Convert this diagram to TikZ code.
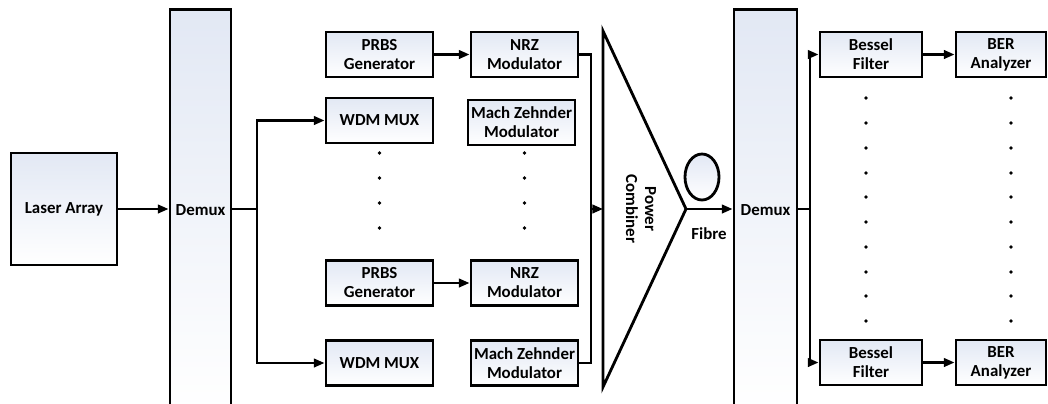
\documentclass[tikz,border=0pt]{standalone}
\usepackage{fontspec}
\setmainfont{Carlito}
\usetikzlibrary{arrows.meta}
\definecolor{boxtop}{HTML}{E2E8F4}
\begin{document}
\begin{tikzpicture}[x=0.025cm,y=-0.025cm,
  line width=1.7pt,
  >={Triangle[length=7.5pt,width=6pt]},
  shade box/.style={top color=boxtop,bottom color=white},
  block/.style={draw,shade box,line width=2.1pt,font=\fontsize{12}{13.5}\selectfont\bfseries,
    align=center,inner sep=0pt,minimum width=2.675cm,minimum height=1.125cm},
  bar/.style={block,minimum height=10cm},
  dot/.style={circle,fill,inner sep=0pt,minimum size=2.8pt}]

  \useasboundingbox (0,0) rectangle (1048,403);
  \begin{scope}
  \clip (0,0) rectangle (1048,403);

  % transmitter side
  \node[block,minimum width=2.65cm,minimum height=2.8cm] (laser) at (64,209) {Laser Array};
  \node[bar,minimum width=1.525cm] (dmx1) at (200.5,210) {Demux};

  \node[block] (prbs1) at (379.5,54.5) {PRBS\\Generator};
  \node[block] (nrz1) at (524.5,54.5) {NRZ\\Modulator};
  \node[block] (wdm1) at (379.5,120.5) {WDM MUX};
  \node[block] (mz1) at (521.5,122.5) {Mach Zehnder\\Modulator};
  \node[block] (prbs2) at (379.5,283) {PRBS\\Generator};
  \node[block] (nrz2) at (524.5,283) {NRZ\\Modulator};
  \node[block] (wdm2) at (379.5,363) {WDM MUX};
  \node[block] (mz2) at (524.5,363) {Mach Zehnder\\Modulator};

  \foreach \y in {153,178,203,228} {
    \node[dot] at (379.5,\y) {};
    \node[dot] at (524.5,\y) {};
  }

  % power combiner and fibre
  \coordinate (ctop) at (603,31);
  \coordinate (apex) at (686,209);
  \coordinate (cbot) at (603,387);
  \draw[line width=2pt] (ctop) -- (apex) -- (cbot) -- cycle;
  \node[font=\fontsize{12}{13.5}\selectfont\bfseries,align=center,rotate=-90] (cmb) at (641,209) {Power\\Combiner};
  \draw[shade box,line width=2pt] (702,177) ellipse (0.425cm and 0.575cm);
  \node[font=\fontsize{12}{13.5}\selectfont\bfseries] (fib) at (709,234) {Fibre};

  % receiver side
  \node[bar,minimum width=1.575cm] (dmx2) at (765.5,210) {Demux};
  \node[block,minimum width=2.55cm] (bes1) at (871,54.5) {Bessel\\Filter};
  \node[block,minimum width=2.25cm] (ber1) at (1001,54.5) {BER\\Analyzer};
  \node[block,minimum width=2.55cm] (bes2) at (871,362.5) {Bessel\\Filter};
  \node[block,minimum width=2.25cm] (ber2) at (1001,362.5) {BER\\Analyzer};

  \foreach \y in {98,123,148,173,197,222,247,272,296,321} {
    \node[dot] at (866,\y) {};
    \node[dot] at (1011,\y) {};
  }

  % connectors
  \coordinate (sp1) at (257,209);
  \coordinate (jn) at (591,209);
  \coordinate (sp2) at (810,209);

  \draw[->] (laser.east) -- (laser.east -| dmx1.west);
  \draw (dmx1.east |- sp1) -- (sp1);
  \draw[->] (sp1) |- (wdm1);
  \draw[->] (sp1) |- (wdm2);
  \draw[->] (prbs1) -- (nrz1);
  \draw[->] (prbs2) -- (nrz2);
  \draw (nrz1) -| (jn);
  \draw (mz2) -| (jn);
  \draw[->] (jn) -- (jn -| ctop);
  \draw[->] (apex) -- (apex -| dmx2.west);
  \draw (dmx2.east |- sp2) -- (sp2);
  \draw[->] (sp2) |- (bes1);
  \draw[->] (sp2) |- (bes2);
  \draw[->] (bes1) -- (ber1);
  \draw[->] (bes2) -- (ber2);
  \end{scope}
\end{tikzpicture}
\end{document}
